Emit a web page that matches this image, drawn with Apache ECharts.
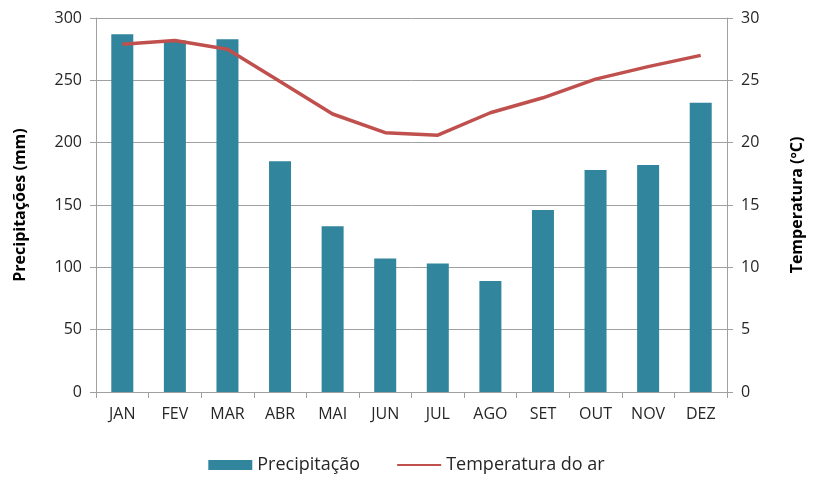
<!DOCTYPE html>
<html>
<head>
<meta charset="utf-8">
<script src="https://cdn.jsdelivr.net/npm/echarts@6/dist/echarts.min.js"></script>
<style>
  html, body { margin: 0; padding: 0; background: #fff; }
  #chart { width: 813px; height: 481px; }
</style>
</head>
<body>
<div id="chart"></div>
<script>
const months = ['JAN', 'FEV', 'MAR', 'ABR', 'MAI', 'JUN', 'JUL', 'AGO', 'SET', 'OUT', 'NOV', 'DEZ']
const precipitacao = [287, 282, 283, 185, 133, 107, 103, 89, 146, 178, 182, 232]
const temperatura = [27.9, 28.2, 27.5, 24.9, 22.3, 20.8, 20.6, 22.4, 23.6, 25.1, 26.1, 27.0]

const chart = echarts.init(document.getElementById('chart'))
const fontFam = '"Open Sans", "Liberation Sans", sans-serif'
const gridColor = '#a0a0a0'

const option = {
  animation: false,
  textStyle: { fontFamily: fontFam },
  grid: { left: 96, right: 83, top: 18, bottom: 89 },
  legend: {
    bottom: 2,
    left: 'center',
    itemGap: 36,
    itemWidth: 44,
    itemHeight: 10,
    textStyle: { fontSize: 18, color: '#262626', fontFamily: fontFam },
    data: [
      { name: 'Precipitação', icon: 'rect' },
      { name: 'Temperatura do ar', itemStyle: { opacity: 0 } }
    ]
  },
  xAxis: {
    type: 'category',
    data: months,
    axisLine: { lineStyle: { color: gridColor } },
    axisTick: { show: true, length: 6, lineStyle: { color: gridColor } },
    axisLabel: { fontSize: 16, color: '#262626', margin: 14 }
  },
  yAxis: [
    {
      type: 'value',
      min: 0, max: 300, interval: 50,
      name: 'Precipitações (mm)',
      nameLocation: 'middle',
      nameGap: 68,
      nameTextStyle: { fontSize: 16, fontWeight: 'bold', color: '#000' },
      axisLine: { show: true, lineStyle: { color: gridColor } },
      axisTick: { show: true, length: 6, lineStyle: { color: gridColor } },
      axisLabel: { fontSize: 16, color: '#262626', margin: 14 },
      splitLine: { lineStyle: { color: gridColor } }
    },
    {
      type: 'value',
      min: 0, max: 30, interval: 5,
      name: 'Temperatura (ºC)',
      nameLocation: 'middle',
      nameGap: 62,
      nameRotate: 90,
      nameTextStyle: { fontSize: 16, fontWeight: 'bold', color: '#000' },
      axisLine: { show: true, lineStyle: { color: gridColor } },
      axisTick: { show: true, length: 6, lineStyle: { color: gridColor } },
      axisLabel: { fontSize: 16, color: '#262626', margin: 14 },
      splitLine: { show: false }
    }
  ],
  series: [
    {
      name: 'Precipitação',
      type: 'bar',
      data: precipitacao,
      barWidth: 22,
      itemStyle: { color: '#31859c' }
    },
    {
      name: 'Temperatura do ar',
      type: 'line',
      yAxisIndex: 1,
      data: temperatura,
      symbol: 'none',
      lineStyle: { color: '#c0504d', width: 3.5 },
      itemStyle: { color: '#c0504d' }
    }
  ]
}

chart.setOption(option)
</script>
</body>
</html>
